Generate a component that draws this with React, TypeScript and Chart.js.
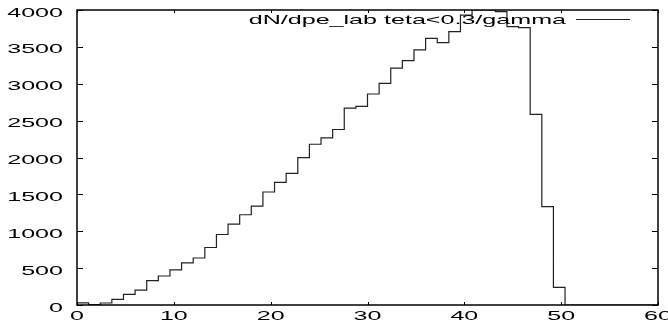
import React, { useEffect, useRef } from "react";
import { Chart, registerables } from "chart.js";

Chart.register(...registerables);

// Histogram: bin width 1.2 starting at 0, counts per bin
const BIN_WIDTH = 1.2;
const binCounts = [
  30, 7, 27, 77, 145, 203, 330, 393, 475, 572,
  637, 780, 956, 1096, 1224, 1340, 1532, 1664, 1786, 1997,
  2180, 2267, 2380, 2669, 2692, 2861, 3006, 3211, 3313, 3458,
  3616, 3557, 3706, 3930, 4000, 4000, 3977, 3774, 3760, 2586,
  1333, 240, 0, 0, 0, 0, 0, 0, 0, 0,
];
const X_MIN = 0;
const X_MAX = 60;
const Y_MIN = 0;
const Y_MAX = 4000;
const xTicks = [0, 10, 20, 30, 40, 50, 60];
const yTicks = [0, 500, 1000, 1500, 2000, 2500, 3000, 3500, 4000];
const legendLabel = "dN/dpe_lab teta<0.3/gamma";

const FONT = "13px 'Liberation Sans', Arial, Helvetica, sans-serif";
const SX = 1.93; // horizontal text stretch as in the reference

const framePlugin = {
  id: "gnuplotFrame",
  afterDraw(chart: any) {
    const { ctx, chartArea } = chart;
    const xs = chart.scales.x;
    const ys = chart.scales.y;
    const { left, right, top, bottom } = chartArea;
    ctx.save();
    ctx.strokeStyle = "#000";
    ctx.lineWidth = 1.5;
    ctx.strokeRect(left, top, right - left, bottom - top);

    ctx.lineWidth = 1;
    ctx.beginPath();
    for (const v of yTicks) {
      const py = Math.round(ys.getPixelForValue(v)) + 0.5;
      ctx.moveTo(left, py);
      ctx.lineTo(left + 6, py);
      ctx.moveTo(right, py);
      ctx.lineTo(right - 6, py);
    }
    for (const v of xTicks) {
      const px = Math.round(xs.getPixelForValue(v)) + 0.5;
      ctx.moveTo(px, bottom);
      ctx.lineTo(px, bottom - 3);
      ctx.moveTo(px, top);
      ctx.lineTo(px, top + 3);
    }
    ctx.stroke();

    ctx.fillStyle = "#000";
    ctx.font = FONT;
    ctx.textBaseline = "middle";
    for (const v of yTicks) {
      const py = ys.getPixelForValue(v);
      ctx.save();
      ctx.translate(left - 14, py + 3);
      ctx.scale(SX, 1);
      ctx.textAlign = "right";
      ctx.fillText(String(v), 0, 0);
      ctx.restore();
    }
    for (const v of xTicks) {
      const px = xs.getPixelForValue(v);
      ctx.save();
      ctx.translate(px, bottom + 11);
      ctx.scale(SX, 1);
      ctx.textAlign = "center";
      ctx.fillText(String(v), 0, 0);
      ctx.restore();
    }

    // key
    const keyY = top + 9;
    const sampleEnd = right - 28;
    const sampleStart = sampleEnd - 54;
    ctx.save();
    ctx.translate(sampleStart - 10, keyY + 1);
    ctx.scale(SX, 1);
    ctx.textAlign = "right";
    ctx.fillText(legendLabel, 0, 0);
    ctx.restore();
    ctx.strokeStyle = "#222";
    ctx.lineWidth = 1.2;
    ctx.beginPath();
    ctx.moveTo(sampleStart, Math.round(keyY) + 0.5);
    ctx.lineTo(sampleEnd, Math.round(keyY) + 0.5);
    ctx.stroke();
    ctx.restore();
  },
};

export default function App() {
  const ref = useRef<HTMLCanvasElement | null>(null);
  useEffect(() => {
    if (!ref.current) return;
    const points = binCounts.map((c, i) => ({ x: i * BIN_WIDTH, y: c }));
    points.push({ x: X_MAX, y: 0 });
    const chart = new Chart(ref.current, {
      type: "line",
      data: {
        datasets: [
          {
            label: legendLabel,
            data: points,
            stepped: true,
            borderColor: "#222",
            borderWidth: 1.2,
            pointRadius: 0,
            fill: false,
            tension: 0,
          },
        ],
      },
      options: {
        responsive: false,
        animation: false,
        layout: { padding: { left: 77, right: 10, top: 10, bottom: 21 } },
        scales: {
          x: { type: "linear", min: X_MIN, max: X_MAX, display: false },
          y: { type: "linear", min: Y_MIN, max: Y_MAX, display: false },
        },
        plugins: { legend: { display: false }, tooltip: { enabled: false } },
      },
      plugins: [framePlugin],
    });
    return () => chart.destroy();
  }, []);
  return (
    <div style={{ position: "absolute", left: 0, top: 0, width: 668, height: 326, background: "#fff" }}>
      <canvas ref={ref} width={668} height={326} style={{ width: 668, height: 326 }} />
    </div>
  );
}
